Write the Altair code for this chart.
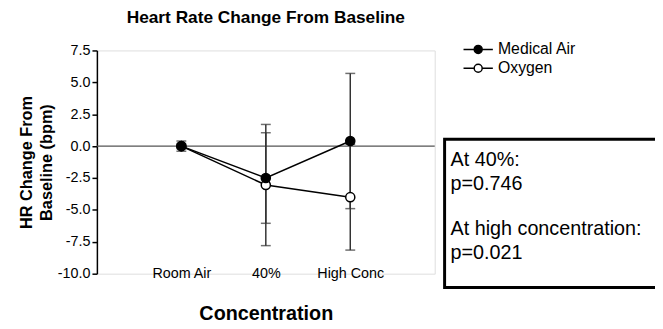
import altair as alt
import pandas as pd

categories = ["Room Air", "40%", "High Conc"]
series_names = ["Medical Air", "Oxygen"]
medical_air_mean = [0.0, -2.5, 0.4]
medical_air_err = [0.4, 3.55, 5.3]
oxygen_mean = [0.0, -3.05, -4.0]
oxygen_err = [0.2, 4.75, 4.15]
y_ticks = [-10.0, -7.5, -5.0, -2.5, 0.0, 2.5, 5.0, 7.5]
note_40 = ["At 40%:", "p=0.746"]
note_high = ["At high concentration:", "p=0.021"]

rows = []
for name, means, errs in [
    (series_names[0], medical_air_mean, medical_air_err),
    (series_names[1], oxygen_mean, oxygen_err),
]:
    for c, m, e in zip(categories, means, errs):
        rows.append({"cond": c, "series": name, "mean": m, "err": e})
df = pd.DataFrame(rows)
df["zorder"] = df["series"].map({"Oxygen": 0, "Medical Air": 1})

FONT = "Liberation Sans"
W, H = 342, 226

x_axis = alt.Axis(
    title="Concentration", labelAngle=0, domain=False, ticks=False,
    labelFontSize=14.5, labelFont=FONT, labelColor="black",
    labelBaseline="middle", labelPadding=0,
    titleFontSize=20, titleFont=FONT, titleFontWeight="bold", titleColor="black",
    titlePadding=24,
)
y_axis = alt.Axis(
    title=["HR Change From", "Baseline (bpm)"], values=y_ticks,
    labelExpr="replace(format(datum.value, '.1f'), '\u2212', '-')",
    grid=False, domainColor="black", domainWidth=1.5, tickColor="black",
    tickWidth=1.5, tickSize=5, labelFontSize=14.5, labelFont=FONT,
    labelColor="black", labelPadding=2,
    titleFontSize=16.5, titleFont=FONT, titleFontWeight="bold",
    titleColor="black", titleLineHeight=20, titlePadding=3,
)
x_scale = alt.Scale(type="point", padding=1)
y_scale = alt.Scale(domain=[-10, 7.5], nice=False, zero=False)

def X():
    return alt.X("cond:N", sort=categories, scale=x_scale, axis=x_axis)

def Y(field):
    return alt.Y(field, scale=y_scale, axis=y_axis)

base = alt.Chart(df).transform_calculate(
    lo="datum.mean - datum.err", hi="datum.mean + datum.err"
)

one = pd.DataFrame({"k": [0]})

zero_rule = alt.Chart(one).mark_rule(color="#555555", strokeWidth=1.5).encode(
    y=alt.Y(datum=0, scale=y_scale, axis=y_axis)
)

err_rule = base.mark_rule(color="#333333", strokeWidth=1.5).encode(
    x=X(), y=Y("lo:Q"), y2="hi:Q"
)
cap_lo = base.mark_tick(color="#333333", thickness=1.5, size=10).encode(
    x=X(), y=Y("lo:Q")
)
cap_hi = base.mark_tick(color="#333333", thickness=1.5, size=10).encode(
    x=X(), y=Y("hi:Q")
)

lines = base.mark_line(color="black", strokeWidth=1.5).encode(
    x=X(), y=Y("mean:Q"), detail="series:N", order="zorder:Q"
)

legend_path = ("M-1.65,0H-0.45M0.45,0H1.65"
               "M-0.45,0A0.45,0.45,0,1,1,0.45,0A0.45,0.45,0,1,1,-0.45,0Z")

points = base.mark_point(
    filled=True, shape="circle", size=85, stroke="black", strokeWidth=1.5,
    opacity=1,
).encode(
    x=X(), y=Y("mean:Q"),
    fill=alt.Fill(
        "series:N",
        scale=alt.Scale(domain=series_names, range=["black", "white"]),
        legend=alt.Legend(
            title=None, orient="none", legendX=376, legendY=-11, padding=0,
            symbolType=legend_path, symbolSize=324, symbolStrokeColor="black",
            symbolStrokeWidth=1.5, labelFontSize=16, labelFont=FONT,
            labelColor="black", labelOffset=10, rowPadding=1,
        ),
    ),
    order=alt.Order("zorder:Q"),
)

box = alt.Chart(one).mark_rect(fill="white", stroke="black", strokeWidth=3).encode(
    x=alt.value(352), x2=alt.value(620), y=alt.value(90), y2=alt.value(240)
)
notes_40 = alt.Chart(one).mark_text(
    align="left", baseline="top", fontSize=20, lineHeight=24, font=FONT,
    color="black",
).encode(x=alt.value(358), y=alt.value(101), text=alt.value(note_40))
notes_high = alt.Chart(one).mark_text(
    align="left", baseline="top", fontSize=20, lineHeight=24, font=FONT,
    color="black",
).encode(x=alt.value(358), y=alt.value(171), text=alt.value(note_high))

chart = alt.layer(
    zero_rule, err_rule, cap_lo, cap_hi, lines, points, box, notes_40, notes_high
).properties(
    width=W, height=H,
    title=alt.TitleParams(
        "Heart Rate Change From Baseline", fontSize=17.5, font=FONT,
        fontWeight="bold", color="black", frame="group", anchor="middle",
        offset=13,
    ),
    autosize=alt.AutoSizeParams(type="none"),
    padding={"left": 90, "top": 41, "right": 223, "bottom": 53},
).configure_view(stroke=None).configure(background="white")

chart.save("out.html", embed_options={"renderer": "svg", "actions": False})
